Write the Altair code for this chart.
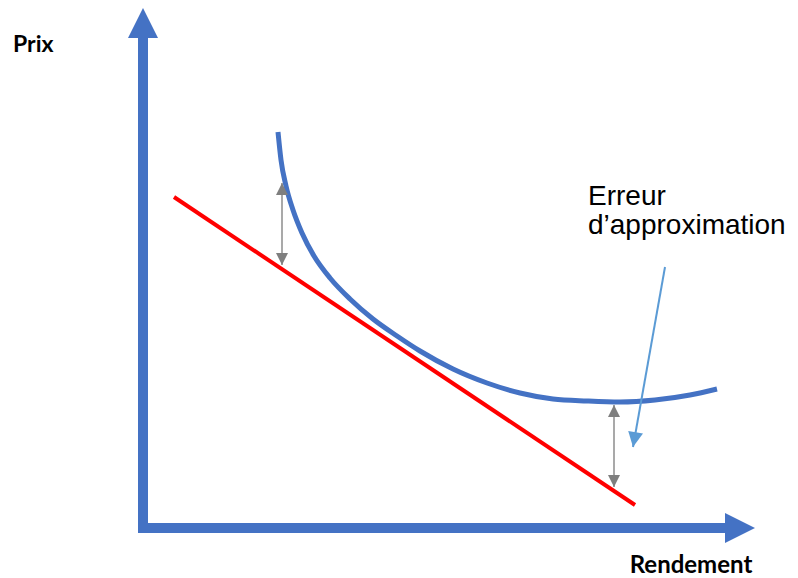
import altair as alt
import pandas as pd

# Conceptual units: Rendement (x) and Prix (y), origin at the axes corner
curve_x = [135, 138, 143, 150, 159, 171, 187, 207, 230, 254, 277, 310, 344, 377, 410, 444, 477, 512, 547, 574]
curve_y = [396, 368, 342, 318, 295, 272, 250, 229, 209, 192, 177, 159, 145, 135, 129, 127, 126, 128, 133, 139]

tangent_x = [31, 492]
tangent_y = [331, 23]

error_x = [139, 471]
error_top = [345, 123]
error_bottom = [263, 41]

pointer_from = [522, 261]
pointer_to = [490, 81]

axis_x_tip = 612
axis_y_tip = 520
axis_x_start = -5
axis_y_start = -5

label_prix = "Prix"
label_rendement = "Rendement"
label_note = "Erreur\nd\u2019approximation"

X_DOMAIN = [-135, 647]
Y_DOMAIN = [-50, 520]

AXIS_BLUE = "#4472C4"
CURVE_BLUE = "#4472C4"
POINTER_BLUE = "#5B9BD5"

UP = "M0,-1L1,1L-1,1Z"
DOWN = "M0,1L-1,-1L1,-1Z"
RIGHT = "M1,0L-1,1L-1,-1Z"


def xenc(f="x"):
    return alt.X(f"{f}:Q", scale=alt.Scale(domain=X_DOMAIN, nice=False, zero=False), axis=None)


def yenc(f="y"):
    return alt.Y(f"{f}:Q", scale=alt.Scale(domain=Y_DOMAIN, nice=False, zero=False), axis=None)


def rule(df, color, width):
    return alt.Chart(df).mark_rule(color=color, strokeWidth=width, strokeCap="butt").encode(
        x=xenc(), y=yenc(), x2="x2:Q", y2="y2:Q")


def head(df, shape, size, color, xo=0, yo=0, angle=0):
    return alt.Chart(df).mark_point(
        shape=shape, size=size, filled=True, color=color, opacity=1,
        strokeWidth=0, xOffset=xo, yOffset=yo, angle=angle
    ).encode(x=xenc(), y=yenc())


# Axes
axes_df = pd.DataFrame({
    "x": [0, axis_x_start], "y": [axis_y_start, 0],
    "x2": [0, axis_x_tip - 29], "y2": [axis_y_tip - 30, 0],
})
axes = rule(axes_df, AXIS_BLUE, 10)
head_y = head(pd.DataFrame({"x": [0], "y": [axis_y_tip]}), UP, 900, AXIS_BLUE, yo=15)
head_x = head(pd.DataFrame({"x": [axis_x_tip], "y": [0]}), RIGHT, 900, AXIS_BLUE, xo=-15)

# Curve
curve_df = pd.DataFrame({"x": curve_x, "y": curve_y, "o": list(range(len(curve_x)))})
curve = alt.Chart(curve_df).mark_line(
    color=CURVE_BLUE, strokeWidth=5, interpolate="monotone"
).encode(x=xenc(), y=yenc(), order="o:O")

# Tangent
tan_df = pd.DataFrame({"x": [tangent_x[0]], "y": [tangent_y[0]], "x2": [tangent_x[1]], "y2": [tangent_y[1]]})
tangent = rule(tan_df, "#FF0000", 4)

# Error arrows
err_df = pd.DataFrame({"x": error_x, "y": error_bottom, "x2": error_x, "y2": error_top})
err = rule(err_df, "#A9A9A9", 2)
err_up = head(pd.DataFrame({"x": error_x, "y": error_top}), UP, 144, "#7F7F7F", yo=6)
err_down = head(pd.DataFrame({"x": error_x, "y": error_bottom}), DOWN, 144, "#7F7F7F", yo=-6)

# Pointer
ptr_df = pd.DataFrame({"x": [pointer_from[0]], "y": [pointer_from[1]], "x2": [pointer_to[0]], "y2": [pointer_to[1]]})
ptr = rule(ptr_df, POINTER_BLUE, 2)
ptr_head = head(pd.DataFrame({"x": [pointer_to[0]], "y": [pointer_to[1]]}), DOWN, 225, POINTER_BLUE,
                xo=1.3, yo=-7.4, angle=10)

# Texts
prix = alt.Chart(pd.DataFrame({"x": [-130], "y": [483], "t": [label_prix]})).mark_text(
    font="Lato", fontWeight="bold", fontSize=23, align="left", baseline="middle", color="#000000"
).encode(x=xenc(), y=yenc(), text="t:N")
rend = alt.Chart(pd.DataFrame({"x": [548], "y": [-45], "t": [label_rendement]})).mark_text(
    font="Lato", fontWeight="bold", fontSize=24, align="center", baseline="alphabetic", color="#000000"
).encode(x=xenc(), y=yenc(), text="t:N")
note = alt.Chart(pd.DataFrame({"x": [445], "y": [323], "t": [label_note]})).mark_text(
    font="Liberation Sans", fontSize=28, align="left", baseline="alphabetic", color="#000000",
    lineBreak="\n", lineHeight=29
).encode(x=xenc(), y=yenc(), text="t:N")

chart = alt.layer(
    axes, head_y, head_x, tangent, curve, err, err_up, err_down, ptr, ptr_head, prix, rend, note
).properties(
    width=782, height=570, padding=0, autosize="none"
).configure_view(stroke=None)

chart.save("out.html", embed_options={"renderer": "svg", "actions": False})
